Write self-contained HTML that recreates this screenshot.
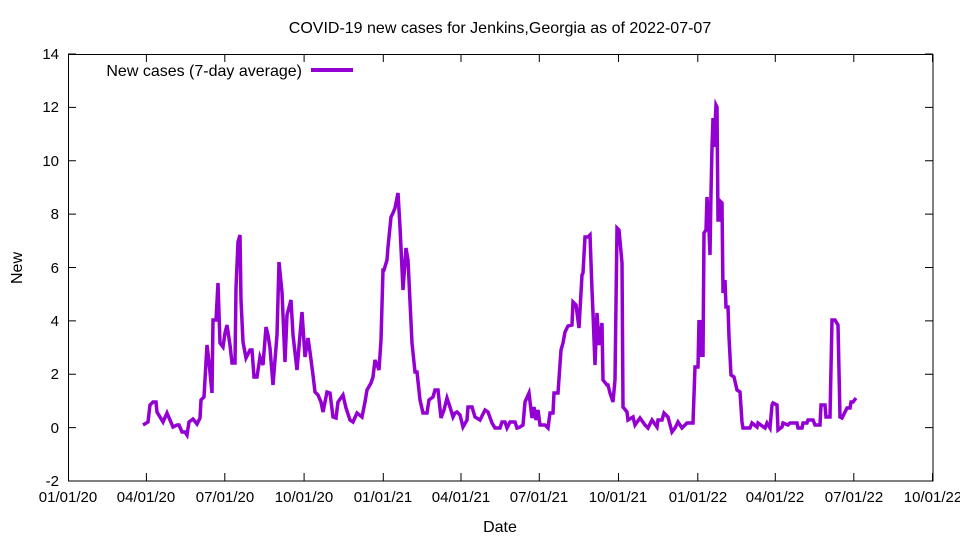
<!DOCTYPE html>
<html><head><meta charset="utf-8"><style>body{margin:0;background:#fff}svg{display:block;font-family:"Liberation Sans",sans-serif}</style></head><body>
<svg width="960" height="540" viewBox="0 0 960 540">
<rect width="960" height="540" fill="#fff"/>
<g stroke="#000" stroke-width="1" fill="none">
<rect x="68.5" y="54.5" width="864.5" height="426.5"/>
<path d="M68 481h8M933 481h-8M68 427.6h8M933 427.6h-8M68 374.3h8M933 374.3h-8M68 320.9h8M933 320.9h-8M68 267.5h8M933 267.5h-8M68 214.1h8M933 214.1h-8M68 160.8h8M933 160.8h-8M68 107.4h8M933 107.4h-8M68 54h8M933 54h-8"/>
<path d="M68.5 481v-8M68.5 54v8M146.4 481v-8M146.4 54v8M224.8 481v-8M224.8 54v8M304.1 481v-8M304.1 54v8M383.3 481v-8M383.3 54v8M461 481v-8M461 54v8M539.3 481v-8M539.3 54v8M618.5 481v-8M618.5 54v8M697.8 481v-8M697.8 54v8M775.3 481v-8M775.3 54v8M853.8 481v-8M853.8 54v8M932.5 481v-8M932.5 54v8"/>
</g>
<g font-size="15" fill="#000" text-anchor="end">
<text x="59" y="486">-2</text><text x="59" y="433">0</text><text x="59" y="379">2</text><text x="59" y="326">4</text><text x="59" y="273">6</text><text x="59" y="219">8</text><text x="59" y="166">10</text><text x="59" y="112">12</text><text x="59" y="59">14</text>
</g>
<g font-size="15" fill="#000" text-anchor="middle">
<text x="68" y="502">01/01/20</text><text x="146" y="502">04/01/20</text><text x="225" y="502">07/01/20</text><text x="304" y="502">10/01/20</text><text x="383" y="502">01/01/21</text><text x="461" y="502">04/01/21</text><text x="539" y="502">07/01/21</text><text x="618" y="502">10/01/21</text><text x="698" y="502">01/01/22</text><text x="775" y="502">04/01/22</text><text x="854" y="502">07/01/22</text><text x="933" y="502">10/01/22</text>
</g>
<g font-size="16" fill="#000" text-anchor="middle">
<text x="500" y="33">COVID-19 new cases for Jenkins,Georgia as of 2022-07-07</text>
<text x="500" y="532">Date</text>
<text transform="translate(22,268) rotate(-90)">New</text>
</g>
<text x="302" y="76" font-size="16" text-anchor="end">New cases (7-day average)</text>
<path d="M311 70h42" stroke="#9400d3" stroke-width="4"/>
<polyline fill="none" stroke="#9400d3" stroke-width="3.5" stroke-linejoin="miter" points="143,425 148,422 150,405 153,402 156,402 157,412 160,417 163,422 167,413 170,420 173,427 177,425 179,425 182,432 185,432 187,435 189,422 193,419 197,424 200,418 201,400 204,397 207,345 209,362 212,393 213,320 216,320 218,283 220,343 223,347 225,333 227,325 230,345 232,363 235,363 236,288 238,242 240,235 241,300 243,342 246,358 250,350 252,350 254,377 257,377 260,357 263,365 266,327 268,335 270,348 273,385 277,335 279,262 282,292 285,362 287,315 291,300 293,335 297,370 300,335 302,312 305,357 308,338 310,352 313,375 315,392 318,395 321,402 323,412 327,392 330,393 333,417 336,418 338,402 343,395 346,408 350,420 353,422 357,413 362,417 365,402 367,390 371,383 373,377 375,360 379,370 381,340 383,270 384,270 387,260 388,247 391,217 393,213 395,208 398,193 400,227 403,290 406,248 408,260 412,343 415,372 417,372 420,400 423,413 427,413 429,400 433,397 435,390 438,390 441,418 444,410 447,398 450,407 453,417 455,413 457,412 460,415 463,427 467,420 468,407 472,407 475,417 480,420 485,410 488,412 492,423 495,428 500,428 502,422 505,422 507,428 510,422 515,422 517,428 520,427 523,425 525,402 529,393 532,418 534,407 536,420 538,410 540,425 545,425 548,428 550,413 553,413 554,393 558,393 561,350 563,343 565,332 568,326 572,325 573,302 576,305 579,328 582,275 583,273 585,237 588,237 590,235 592,290 593,313 595,365 597,313 599,345 602,323 603,380 607,385 608,385 610,393 613,402 615,380 617,228 619,230 622,263 623,407 627,412 628,420 633,417 635,425 640,418 645,425 648,428 652,420 657,427 658,420 662,420 664,413 668,417 672,432 675,428 678,422 682,428 687,423 693,423 695,367 698,367 699,320 701,357 702,320 703,357 704,233 706,230 707,197 709,230 710,255 711,193 712,147 713,118 714,147 716,105 717,107 718,220 720,220 721,202 722,203 723,293 725,280 726,307 728,307 729,337 731,375 734,377 737,390 740,392 742,422 743,428 750,428 752,423 757,427 758,423 765,428 767,423 770,428 772,405 773,403 777,405 778,430 782,427 783,423 788,425 790,423 797,423 798,428 802,428 803,423 807,423 808,420 813,420 815,425 820,425 821,405 825,405 826,417 830,417 832,320 835,320 838,325 840,417 842,418 845,412 847,408 850,408 851,402 853,402 856,398"/>
</svg>
</body></html>
